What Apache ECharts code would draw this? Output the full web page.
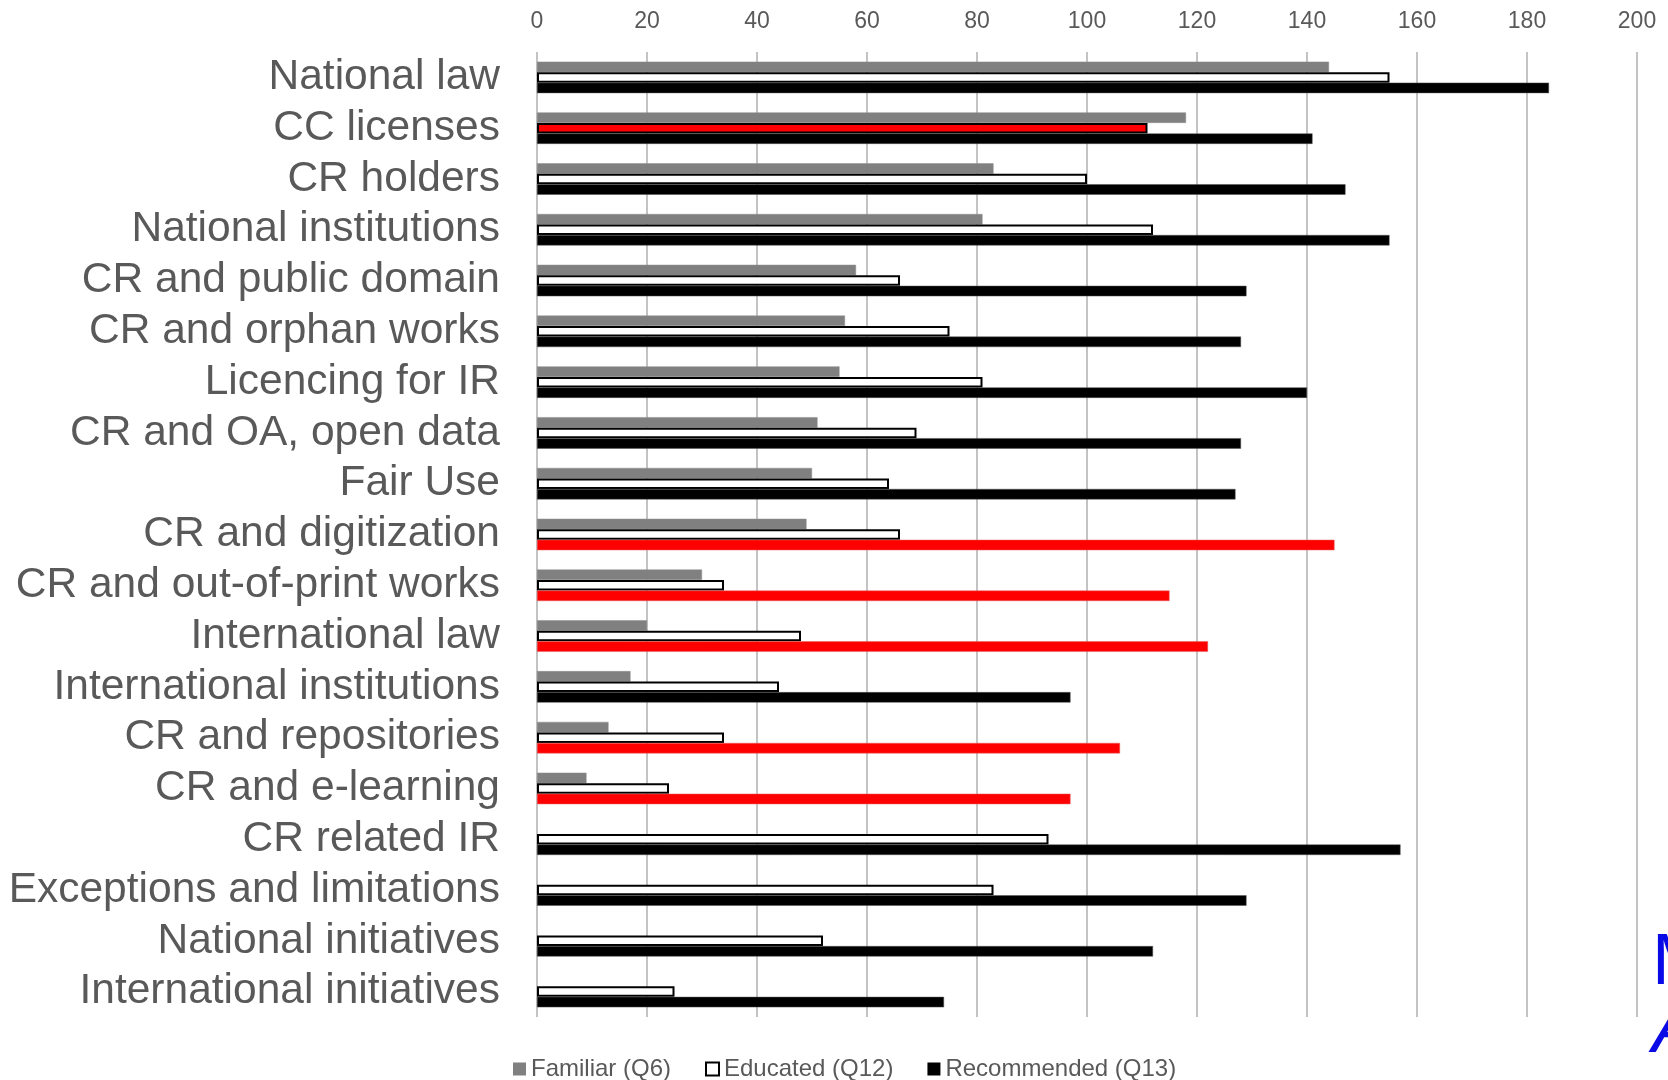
<!DOCTYPE html>
<html>
<head>
<meta charset="utf-8">
<script src="https://cdn.jsdelivr.net/npm/echarts@6/dist/echarts.min.js"></script>
<style>
html,body{margin:0;padding:0;background:#fff;}
#chart{width:1668px;height:1080px;}
</style>
</head>
<body>
<div id="chart"></div>
<script>
const categories = [
  'National law', 'CC licenses', 'CR holders', 'National institutions',
  'CR and public domain', 'CR and orphan works', 'Licencing for IR',
  'CR and OA, open data', 'Fair Use', 'CR and digitization',
  'CR and out-of-print works', 'International law', 'International institutions',
  'CR and repositories', 'CR and e-learning', 'CR related IR',
  'Exceptions and limitations', 'National initiatives', 'International initiatives'
];
const familiar    = [144, 118, 83, 81, 58, 56, 55, 51, 50, 49, 30, 20, 17, 13, 9, 0, 0, 0, 0];
const educated    = [155, 111, 100, 112, 66, 75, 81, 69, 64, 66, 34, 48, 44, 34, 24, 93, 83, 52, 25];
const recommended = [184, 141, 147, 155, 129, 128, 140, 128, 127, 145, 115, 122, 97, 106, 97, 157, 129, 112, 74];
const educatedHighlighted    = ['CC licenses'];
const recommendedHighlighted = ['CR and digitization', 'CR and out-of-print works', 'International law', 'CR and repositories', 'CR and e-learning'];
const seriesNames = ['Familiar (Q6)', 'Educated (Q12)', 'Recommended (Q13)'];
const xTicks = [0, 20, 40, 60, 80, 100, 120, 140, 160, 180, 200];
const sideNote = ['M', 'A'];

const FONT = 'Liberation Sans, Arial, sans-serif';
const RED = '#ff0000';

const chart = echarts.init(document.getElementById('chart'), null, {renderer: 'canvas'});

const barW = 10.5;

const option = {
  animation: false,
  backgroundColor: '#ffffff',
  textStyle: {fontFamily: FONT},
  grid: {left: 537, right: 31, top: 52, bottom: 63, containLabel: false},
  xAxis: {
    type: 'value',
    position: 'top',
    min: xTicks[0],
    max: xTicks[xTicks.length - 1],
    interval: xTicks[1] - xTicks[0],
    axisLine: {show: false},
    axisTick: {show: false},
    axisLabel: {fontSize: 23, color: '#595959', margin: 19, fontFamily: FONT},
    splitLine: {show: true, lineStyle: {color: '#c3c3c3', width: 2}}
  },
  yAxis: {
    type: 'category',
    inverse: true,
    data: categories,
    axisLine: {show: false},
    axisTick: {show: false},
    axisLabel: {interval: 0, fontSize: 42.5, color: '#595959', margin: 37, fontFamily: FONT}
  },
  legend: {
    left: 508,
    top: 1052,
    itemWidth: 13,
    itemHeight: 13,
    itemGap: 34,
    icon: 'rect',
    textStyle: {fontSize: 24, color: '#595959', fontFamily: FONT, padding: [0, 0, 0, 0]},
    data: [
      {name: seriesNames[0], itemStyle: {color: '#808080', borderWidth: 0}},
      {name: seriesNames[1], itemStyle: {color: '#ffffff', borderColor: '#000000', borderWidth: 2}},
      {name: seriesNames[2], itemStyle: {color: '#000000', borderWidth: 0}}
    ]
  },
  series: [
    {
      name: seriesNames[0],
      type: 'bar',
      barWidth: barW,
      barGap: '0%',
      itemStyle: {color: '#808080', borderColor: '#8c8c8c', borderWidth: 0.5},
      data: familiar.map(v => v === 0 ? '-' : v)
    },
    {
      name: seriesNames[1],
      type: 'bar',
      barWidth: barW,
      barGap: '0%',
      itemStyle: {color: '#ffffff', borderColor: '#000000', borderWidth: 2},
      data: educated.map((v, i) => educatedHighlighted.includes(categories[i])
        ? {value: v, itemStyle: {color: RED, borderColor: '#000000', borderWidth: 2}}
        : v)
    },
    {
      name: seriesNames[2],
      type: 'bar',
      barWidth: barW,
      barGap: '0%',
      itemStyle: {color: '#000000', borderColor: '#555555', borderWidth: 0.5},
      data: recommended.map((v, i) => recommendedHighlighted.includes(categories[i])
        ? {value: v, itemStyle: {color: RED, borderColor: '#e06060', borderWidth: 0.5}}
        : v)
    }
  ],
  graphic: [
    {
      type: 'text',
      left: 1652,
      top: 928,
      style: {text: sideNote[0], fontSize: 72, fill: '#0a0ae6', fontFamily: 'Liberation Sans Narrow, Liberation Sans, sans-serif'}
    },
    {
      type: 'text',
      left: 1652,
      top: 996,
      style: {text: sideNote[1], fontSize: 72, fill: '#0a0ae6', fontStyle: 'italic', fontFamily: 'Liberation Sans Narrow, Liberation Sans, sans-serif'}
    }
  ]
};

chart.setOption(option);
</script>
</body>
</html>
